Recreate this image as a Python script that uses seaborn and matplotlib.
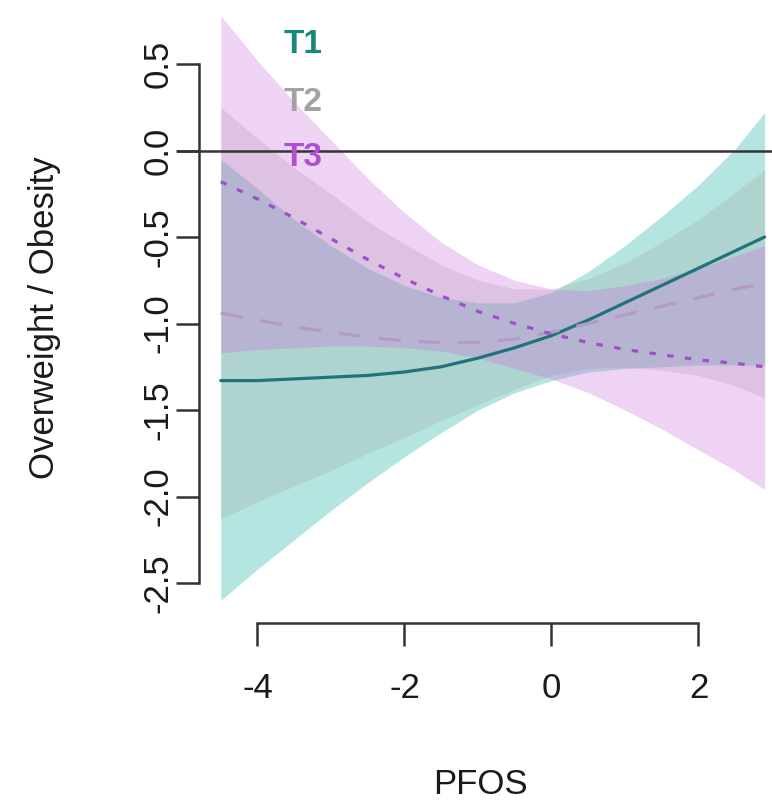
import numpy as np
import pandas as pd
import matplotlib
matplotlib.use("Agg")
import matplotlib.pyplot as plt
import seaborn as sns

# PFOS grid and fitted curves
pfos = [-4.5, -4.0, -3.5, -3.0, -2.5, -2.0, -1.5, -1.0, -0.5, 0.0, 0.5, 1.0, 1.5, 2.0, 2.5, 2.9]

t1_fit = [-1.33, -1.33, -1.32, -1.31, -1.30, -1.28, -1.25, -1.20, -1.14, -1.07, -0.98, -0.88, -0.78, -0.68, -0.58, -0.50]
t1_lo = [-2.60, -2.42, -2.25, -2.08, -1.92, -1.77, -1.63, -1.50, -1.40, -1.33, -1.28, -1.26, -1.25, -1.24, -1.24, -1.24]
t1_hi = [-0.05, -0.22, -0.40, -0.55, -0.68, -0.78, -0.85, -0.88, -0.88, -0.82, -0.70, -0.55, -0.38, -0.20, 0.01, 0.22]

t2_fit = [-0.94, -0.98, -1.02, -1.05, -1.08, -1.10, -1.11, -1.11, -1.09, -1.05, -1.00, -0.95, -0.90, -0.85, -0.80, -0.77]
t2_lo = [-2.13, -2.03, -1.94, -1.85, -1.75, -1.66, -1.56, -1.47, -1.38, -1.30, -1.26, -1.25, -1.27, -1.30, -1.36, -1.43]
t2_hi = [0.25, 0.07, -0.10, -0.25, -0.41, -0.54, -0.66, -0.75, -0.80, -0.80, -0.74, -0.65, -0.53, -0.40, -0.24, -0.11]

t3_fit = [-0.18, -0.28, -0.39, -0.51, -0.63, -0.74, -0.84, -0.93, -1.00, -1.06, -1.11, -1.15, -1.18, -1.21, -1.23, -1.25]
t3_lo = [-1.17, -1.15, -1.14, -1.13, -1.13, -1.14, -1.16, -1.20, -1.26, -1.32, -1.40, -1.50, -1.61, -1.73, -1.85, -1.96]
t3_hi = [0.78, 0.52, 0.28, 0.06, -0.16, -0.36, -0.53, -0.66, -0.75, -0.80, -0.81, -0.78, -0.74, -0.68, -0.61, -0.55]

groups = ["T1", "T2", "T3"]
text_colors = ["#158a7c", "#a3a3a3", "#b04fd0"]
line_colors = ["#1f7479", "#b49ac4", "#9a52c4"]
fill_colors = ["#3dbdb0", "#a0a0a0", "#c86edc"]
fill_alpha = [0.38, 0.25, 0.30]

df = pd.DataFrame({
    "PFOS": pfos * 3,
    "fit": t1_fit + t2_fit + t3_fit,
    "lo": t1_lo + t2_lo + t3_lo,
    "hi": t1_hi + t2_hi + t3_hi,
    "group": np.repeat(groups, len(pfos)),
})

sns.set_style("ticks")
plt.rcParams["font.family"] = ["Liberation Sans", "DejaVu Sans"]

W, H = 772, 807
fig = plt.figure(figsize=(W / 100, H / 100), dpi=100)
# axes spans pixels x 177..772, y 0..623
ax = fig.add_axes([177 / W, (H - 623) / H, 595 / W, 623 / H])

for g, fc, a in zip(groups, fill_colors, fill_alpha):
    sub = df[df["group"] == g]
    ax.fill_between(sub["PFOS"], sub["lo"], sub["hi"], color=fc, alpha=a, lw=0)

styles = ["-", (0, (7, 5.5)), (0, (2, 3.6))]
for g, lc, ls in zip(groups, line_colors, styles):
    sub = df[df["group"] == g]
    sns.lineplot(data=sub, x="PFOS", y="fit", ax=ax, color=lc, lw=2.3, linestyle=ls)

ax.axhline(0, color="#333333", lw=1.8)

ax.set_xlim(-5.095, 3.0)
ax.set_ylim(-2.731, 0.870)

ax.spines["top"].set_visible(False)
ax.spines["right"].set_visible(False)
for s in ["left", "bottom"]:
    ax.spines[s].set_color("#333333")
    ax.spines[s].set_linewidth(1.8)
ax.spines["left"].set_position(("data", -4.796))
ax.spines["left"].set_bounds(-2.5, 0.5)
ax.spines["bottom"].set_bounds(-4, 2)

ax.set_xticks([-4, -2, 0, 2])
ax.set_xticklabels(["-4", "-2", "0", "2"])
ax.set_yticks([-2.5, -2.0, -1.5, -1.0, -0.5, 0.0, 0.5])
ax.set_yticklabels(["-2.5", "-2.0", "-1.5", "-1.0", "-0.5", "0.0", "0.5"])
ax.tick_params(axis="both", direction="out", length=16.5, width=1.8, color="#333333",
               labelsize=25, labelcolor="#1a1a1a")
ax.tick_params(axis="x", pad=19)
ax.tick_params(axis="y", pad=1)
for lab in ax.get_yticklabels():
    lab.set_rotation(90)
    lab.set_va("center")
    lab.set_ha("right")

ax.set_xlabel("")
ax.set_ylabel("")
fig.text(45 / W, 1 - 318 / H, "Overweight / Obesity", rotation=90, ha="center", va="center",
         fontsize=25, color="#1a1a1a")
fig.text(480 / W, 1 - 785 / H, "PFOS", ha="center", va="center", fontsize=25, color="#1a1a1a")

for g, tc, yv in zip(groups, text_colors, [0.61, 0.28, -0.043]):
    ax.text(-3.65, yv, g, color=tc, fontsize=24, fontweight="bold", ha="left", va="center")

fig.savefig("out.png", dpi=100)
